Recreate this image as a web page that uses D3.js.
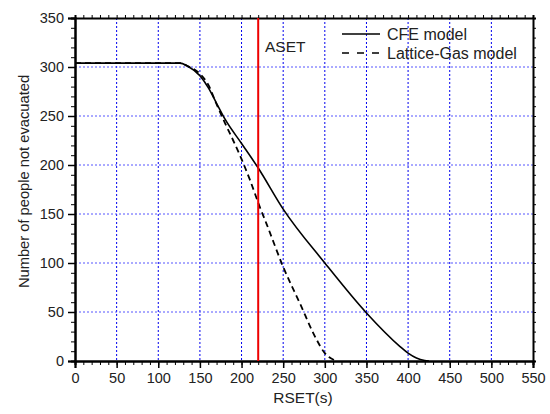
<html>
<head>
<meta charset="UTF-8">
<script src="https://d3js.org/d3.v7.min.js"></script>
<style>
  body { margin: 0; background: #fff; }
  text { font-family: Arial, "Liberation Sans", sans-serif; }
  .axis path, .axis line { stroke: #000; }
  .axis text { font-size: 14.5px; fill: #222; }
</style>
</head>
<body>
<svg id="chart" width="550" height="414"></svg>
<script>
// data
const xTicks = [0, 50, 100, 150, 200, 250, 300, 350, 400, 450, 500, 550];
const yTicks = [0, 50, 100, 150, 200, 250, 300, 350];
const cfeT   = [0, 126, 135, 150, 160, 170, 180, 200, 220, 250, 300, 350, 390, 400, 410, 420, 425];
const cfeN   = [304, 304, 301, 291, 279, 263, 247, 222, 197, 155, 100, 49, 15, 8, 3, 0.5, 0];
const lgT    = [0, 126, 135, 150, 160, 170, 180, 190, 200, 210, 222, 230, 250, 270, 290, 300, 305, 310, 315];
const lgN    = [304, 304, 301, 293, 282, 262, 243, 225, 206, 185, 157, 140, 96, 59, 22, 8, 4, 1.5, 0];
const aset = 220;
const legendNames = ['CFE model', 'Lattice-Gas model'];

const svg = d3.select('#chart');
const margin = {top: 18, right: 17, bottom: 53, left: 75};
const w = 550 - margin.left - margin.right;
const h = 414 - margin.top - margin.bottom;
const g = svg.append('g').attr('transform', `translate(${margin.left},${margin.top})`);

const x = d3.scaleLinear().domain([0, 550]).range([0, w]);
const y = d3.scaleLinear().domain([0, 350]).range([h, 0]);

// grid
g.selectAll('.vgrid').data(xTicks.slice(1, -1)).enter().append('line')
  .attr('x1', d => x(d)).attr('x2', d => x(d)).attr('y1', 0).attr('y2', h)
  .attr('stroke', '#0000ee').attr('stroke-width', 1).attr('stroke-dasharray', '2,2');
g.selectAll('.hgrid').data(yTicks.slice(1, -1)).enter().append('line')
  .attr('y1', d => y(d)).attr('y2', d => y(d)).attr('x1', 0).attr('x2', w)
  .attr('stroke', '#5555ff').attr('stroke-width', 1).attr('stroke-dasharray', '2,2');

// axes
const minorX = d3.range(0, 551, 10);
const minorY = d3.range(0, 351, 10);
function addAxis(axis, tr, cls) {
  const a = g.append('g').attr('class', 'axis ' + cls).attr('transform', tr).call(axis);
  a.select('.domain').attr('stroke-width', 2);
  return a;
}
addAxis(d3.axisBottom(x).tickValues(minorX).tickSize(4).tickFormat(''), `translate(0,${h})`, 'minor');
addAxis(d3.axisBottom(x).tickValues(xTicks).tickSize(7).tickPadding(5), `translate(0,${h})`, 'major')
  .selectAll('.tick line').attr('stroke-width', 1.5);
addAxis(d3.axisLeft(y).tickValues(minorY).tickSize(4).tickFormat(''), '', 'minor');
addAxis(d3.axisLeft(y).tickValues(yTicks).tickSize(7).tickPadding(4), '', 'major')
  .selectAll('.tick line').attr('stroke-width', 1.5);
addAxis(d3.axisTop(x).tickValues(minorX).tickSize(3).tickFormat(''), '', 'minor');
addAxis(d3.axisRight(y).tickValues(minorY).tickSize(3).tickFormat(''), `translate(${w},0)`, 'minor');
g.selectAll('.axis .tick line').attr('stroke', '#000');

// curves
const line = d3.line().x(d => x(d[0])).y(d => y(d[1])).curve(d3.curveMonotoneX);
g.append('path').datum(d3.zip(cfeT, cfeN)).attr('d', line)
  .attr('fill', 'none').attr('stroke', '#000').attr('stroke-width', 1.6);
g.append('path').datum(d3.zip(lgT, lgN)).attr('d', line)
  .attr('fill', 'none').attr('stroke', '#000').attr('stroke-width', 1.8)
  .attr('stroke-dasharray', '6,4');

// ASET line
g.append('line').attr('x1', x(aset)).attr('x2', x(aset)).attr('y1', 0).attr('y2', h)
  .attr('stroke', '#ee0000').attr('stroke-width', 2);
svg.append('text').attr('x', 265).attr('y', 52).text('ASET')
  .attr('font-size', 15.5).attr('fill', '#222');

// legend
const leg = svg.append('g').attr('transform', 'translate(342,34)');
legendNames.forEach((name, i) => {
  leg.append('line').attr('x1', 0).attr('x2', 38).attr('y1', i * 19).attr('y2', i * 19)
    .attr('stroke', '#000').attr('stroke-width', 1.5)
    .attr('stroke-dasharray', i ? '7,8' : null);
  leg.append('text').attr('x', 45).attr('y', i * 19 + 6).text(name)
    .attr('font-size', 16).attr('fill', '#222');
});

// axis titles
svg.append('text').attr('x', 303).attr('y', 403)
  .attr('text-anchor', 'middle').attr('font-size', 15.5).attr('fill', '#222').text('RSET(s)');
svg.append('text').attr('transform', 'translate(29,181.5) rotate(-90)')
  .attr('text-anchor', 'middle').attr('font-size', 14.7).attr('fill', '#222')
  .text('Number of people not evacuated');
</script>
</body>
</html>
